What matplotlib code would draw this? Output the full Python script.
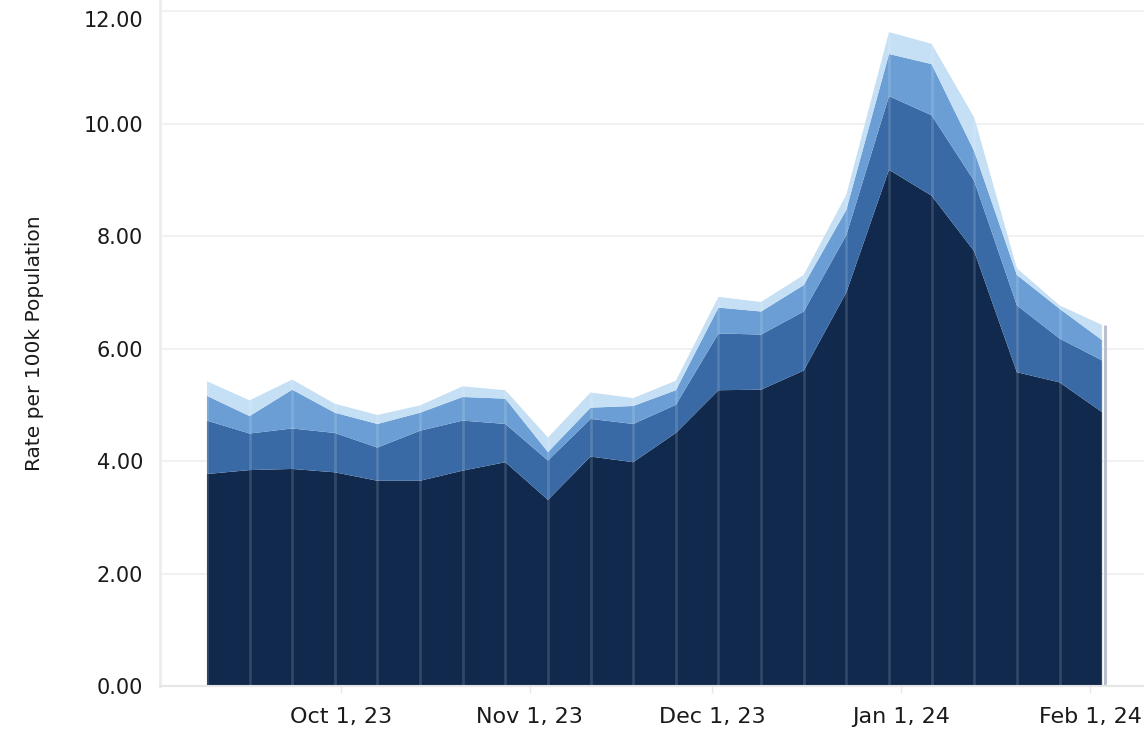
import datetime as dt
import matplotlib
matplotlib.use("Agg")
import matplotlib.pyplot as plt
import matplotlib.dates as mdates
import matplotlib.transforms as mtransforms
import numpy as np

# weekly points, Sep 9 2023 .. Feb 3 2024
start = dt.datetime(2023, 9, 9)
dates = [start + dt.timedelta(weeks=i) for i in range(22)]

# stacked layers, bottom to top (rate per 100k)
layer1 = [3.77, 3.84, 3.86, 3.80, 3.65, 3.65, 3.83, 3.98, 3.31, 4.08, 3.98,
          4.50, 5.26, 5.27, 5.61, 7.00, 9.18, 8.72, 7.73, 5.58, 5.40, 4.87]
layer2 = [0.95, 0.65, 0.72, 0.70, 0.59, 0.89, 0.89, 0.68, 0.70, 0.67, 0.68,
          0.50, 1.01, 0.98, 1.05, 1.02, 1.31, 1.43, 1.25, 1.19, 0.78, 0.92]
layer3 = [0.44, 0.31, 0.69, 0.36, 0.42, 0.32, 0.42, 0.45, 0.15, 0.20, 0.32,
          0.26, 0.46, 0.41, 0.47, 0.45, 0.75, 0.91, 0.53, 0.54, 0.53, 0.36]
layer4 = [0.26, 0.28, 0.18, 0.16, 0.16, 0.13, 0.19, 0.15, 0.26, 0.27, 0.14,
          0.17, 0.19, 0.17, 0.18, 0.27, 0.39, 0.36, 0.60, 0.12, 0.06, 0.27]

colors = ["#10294c", "#3a6aa5", "#6a9ed4", "#c5dff4"]
yticks = [0, 2, 4, 6, 8, 10, 12]
month_ticks = [dt.datetime(2023, 10, 1), dt.datetime(2023, 11, 1), dt.datetime(2023, 12, 1),
               dt.datetime(2024, 1, 1), dt.datetime(2024, 2, 1)]

fig = plt.figure(figsize=(11.44, 7.33), dpi=100)
ax = fig.add_axes([160 / 1144, 47 / 733, 984 / 1144, 686 / 733])

ax.stackplot(dates, layer1, layer2, layer3, layer4, colors=colors, linewidth=0)

# thin separators at each week
totals = np.sum([layer1, layer2, layer3, layer4], axis=0)
ax.vlines(dates, 0, totals, colors="white", alpha=0.14, linewidth=2)
edge = ax.transData + mtransforms.ScaledTranslation(3 / 100, 0, fig.dpi_scale_trans)
ax.vlines(dates[-1], 0, totals[-1], colors="#b9c1cc", linewidth=2.2, transform=edge)

ax.set_ylim(0, 12.2)
ax.set_xlim(dt.datetime(2023, 9, 1, 7), dt.datetime(2024, 2, 9, 21))

ax.set_yticks(yticks)
ax.set_yticklabels([f"{v:.2f}" for v in yticks])
ax.set_xticks(month_ticks)
ax.xaxis.set_major_formatter(mdates.DateFormatter("%b 1, %y"))

ax.grid(axis="y", color="#f0f0f0", linewidth=1.3)
ax.set_axisbelow(True)
for s in ["top", "right"]:
    ax.spines[s].set_visible(False)
ax.spines["left"].set_color("#ececec")
ax.spines["left"].set_linewidth(2)
ax.spines["bottom"].set_color("#e6e6e6")
ax.spines["bottom"].set_linewidth(1.5)

ax.tick_params(axis="y", length=0, pad=12, labelsize=15, labelcolor="#1a1a1a")
ax.tick_params(axis="x", length=5, width=1, color="#e6e6e6", pad=10, labelsize=16,
               labelcolor="#1a1a1a")
# top label sits just under its gridline so it isn't clipped
ax.get_yticklabels()[-1].set_va("top")

ax.set_ylabel("Rate per 100k Population", fontsize=14.5, color="#1a1a1a")
ax.yaxis.set_label_coords(-0.118, 0.5)

fig.savefig("out.png", dpi=100)
